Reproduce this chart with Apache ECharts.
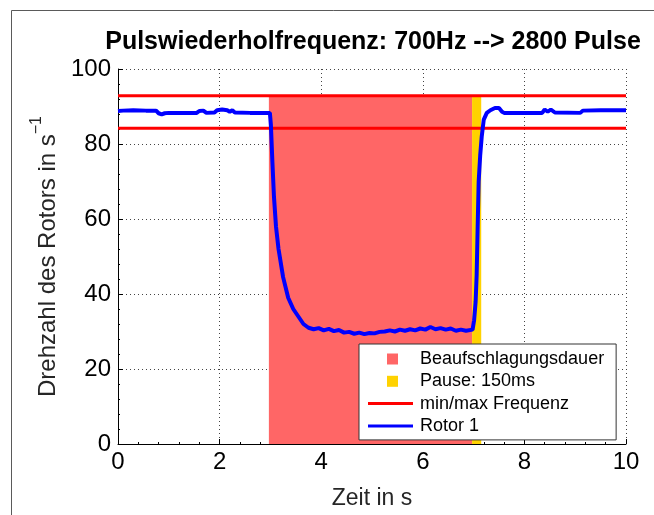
<!DOCTYPE html>
<html><head><meta charset="utf-8">
<script src="https://cdn.jsdelivr.net/npm/echarts@6/dist/echarts.min.js"></script>
<style>html,body{margin:0;padding:0;background:#fff}#c{width:654px;height:515px}</style>
</head><body><div id="c"></div>
<script>
const titleText = 'Pulswiederholfrequenz: 700Hz --> 2800 Pulse';
const xLabel = 'Zeit in s';
const yLabel = 'Drehzahl des Rotors in s';
const yLabelSup = '\u22121';
const xTicks = [0, 2, 4, 6, 8, 10];
const yTicks = [0, 20, 40, 60, 80, 100];
const legendNames = ['Beaufschlagungsdauer', 'Pause: 150ms', 'min/max Frequenz', 'Rotor 1'];
const exposureT = [2.97, 6.97];
const pauseT = [6.97, 7.15];
const freqMax = 92.9;
const freqMin = 84.2;
const rotorT = [0, 0.1, 0.3, 0.55, 0.75, 0.8, 0.86, 0.92, 1.0, 1.3, 1.55, 1.6, 1.68, 1.74, 1.9, 1.95, 2.05, 2.15, 2.2, 2.25, 2.3, 2.6, 2.99,
  3.01, 3.04, 3.07, 3.11, 3.16, 3.25, 3.35, 3.45, 3.55, 3.65, 3.75, 3.85, 3.95, 4.05, 4.15, 4.25, 4.35, 4.45, 4.55, 4.65, 4.75, 4.85, 4.95, 5.05, 5.15, 5.25, 5.35, 5.45, 5.55, 5.65, 5.75, 5.85, 5.95, 6.05, 6.15, 6.25, 6.35, 6.45, 6.55, 6.65, 6.75, 6.85, 6.98,
  7.01, 7.04, 7.06, 7.08, 7.1, 7.13, 7.16, 7.2, 7.26, 7.33, 7.42, 7.5, 7.56, 7.6, 8.0, 8.35, 8.4, 8.46, 8.52, 8.6, 9.1, 9.15, 9.5, 10];
const rotorV = [88.8, 88.9, 89.0, 88.9, 88.9, 88.2, 87.9, 88.2, 88.3, 88.3, 88.3, 88.8, 88.9, 88.3, 88.4, 89.0, 89.2, 89.0, 88.6, 89.0, 88.4, 88.3, 88.3,
  85, 75, 66, 58, 52, 44.5, 39, 36, 34, 32, 31, 30.6, 30.9, 30.3, 30.7, 30.1, 30.4, 29.7, 29.9, 29.4, 29.7, 29.3, 29.6, 29.5, 29.9, 30.0, 30.3, 30.0, 30.5, 30.2, 30.6, 30.3, 30.8, 30.5, 31.2, 30.6, 30.9, 30.5, 30.8, 30.2, 30.5, 30.2, 30.5,
  33, 38, 45, 58, 70, 77, 82, 86.5, 88.3, 89.0, 89.6, 89.6, 88.6, 88.3, 88.3, 88.3, 89.2, 88.6, 89.2, 88.4, 88.3, 88.9, 89.0, 89.0];

const sqIcon = 'path://M0,0M45,11M19,0h11v11h-11z';
const lnIcon = 'path://M0,0M45,11M0,4h45v3h-45z';

const chart = echarts.init(document.getElementById('c'), null, {renderer: 'canvas'});
const font = 'Liberation Sans, Arial, Helvetica, sans-serif';
chart.setOption({
  animation: false,
  textStyle: {fontFamily: font},
  title: {
    text: titleText, left: 368, top: 25, textAlign: 'center',
    textStyle: {fontSize: 25, fontWeight: 'bold', color: '#000', fontFamily: font}
  },
  graphic: [{type: 'rect', shape: {x: 11.5, y: 10.5, width: 800, height: 800}, style: {fill: 'none', stroke: '#5a5a5a', lineWidth: 1}, silent: true, z: 0}],
  grid: {left: 118, top: 69, width: 508, height: 380},
  legend: {
    data: legendNames.map((n, i) => ({name: n, icon: i < 2 ? sqIcon : lnIcon})),
    orient: 'vertical', left: 359, top: 344,
    itemWidth: 45, itemHeight: 11, itemGap: 4.3,
    padding: [6, 12, 5, 9],
    backgroundColor: '#fff', borderColor: '#333', borderWidth: 1,
    selectedMode: false,
    textStyle: {fontSize: 18, color: '#000', fontFamily: font, lineHeight: 18, padding: [0, 0, 0, 2]}
  },
  xAxis: {
    type: 'value', min: xTicks[0], max: xTicks[xTicks.length - 1], interval: 2,
    name: xLabel, nameLocation: 'middle', nameGap: 43,
    nameTextStyle: {fontSize: 23, color: '#262626', fontFamily: font},
    axisLine: {show: true, onZero: false, lineStyle: {color: '#000', width: 1}},
    axisTick: {show: true, inside: true, length: 5, lineStyle: {color: '#000'}},
    minorTick: {show: true, splitNumber: 5, length: 2, lineStyle: {color: '#000'}},
    axisLabel: {fontSize: 24, color: '#000', margin: 6, fontFamily: font},
    splitLine: {show: true, lineStyle: {color: '#444', type: [1, 3], width: 1}}
  },
  yAxis: {
    type: 'value', min: yTicks[0], max: yTicks[yTicks.length - 1], interval: 20,
    name: '{a|' + yLabel + '}{b|' + yLabelSup + '}', nameLocation: 'middle', nameGap: 48, nameRotate: 90,
    nameTextStyle: {rich: {
      a: {fontSize: 24, color: '#262626', fontFamily: font, verticalAlign: 'bottom', lineHeight: 31},
      b: {fontSize: 16, color: '#262626', fontFamily: font, verticalAlign: 'top', lineHeight: 31}
    }},
    axisLine: {show: true, onZero: false, lineStyle: {color: '#000', width: 1}},
    axisTick: {show: true, inside: true, length: 5, lineStyle: {color: '#000'}},
    minorTick: {show: true, splitNumber: 5, length: 2, lineStyle: {color: '#000'}},
    axisLabel: {fontSize: 24, color: '#000', margin: 7, fontFamily: font},
    splitLine: {show: true, lineStyle: {color: '#444', type: [1, 3], width: 1}}
  },
  series: [
    {name: legendNames[0], type: 'line', data: exposureT.map(t => [t, freqMax]), showSymbol: false,
      lineStyle: {width: 0}, itemStyle: {color: '#ff6666'}, areaStyle: {color: '#ff6666', opacity: 1, origin: 'start'}, z: 2, silent: true},
    {name: legendNames[1], type: 'line', data: pauseT.map(t => [t, freqMax]), showSymbol: false,
      lineStyle: {width: 0}, itemStyle: {color: '#ffd200'}, areaStyle: {color: '#ffd200', opacity: 1, origin: 'start'}, z: 2, silent: true},
    {name: legendNames[2], type: 'line', data: [[xTicks[0], freqMax], [xTicks[xTicks.length - 1], freqMax]], showSymbol: false,
      lineStyle: {width: 3, color: '#ff0000'}, itemStyle: {color: '#ff0000'}, z: 3, silent: true},
    {name: legendNames[2], type: 'line', data: [[xTicks[0], freqMin], [xTicks[xTicks.length - 1], freqMin]], showSymbol: false,
      lineStyle: {width: 3, color: '#ff0000'}, itemStyle: {color: '#ff0000'}, z: 3, silent: true},
    {name: legendNames[3], type: 'line', data: rotorT.map((t, i) => [t, rotorV[i]]), showSymbol: false,
      lineStyle: {width: 4, color: '#0000ff'}, itemStyle: {color: '#0000ff'}, z: 4, silent: true}
  ]
});
</script></body></html>
